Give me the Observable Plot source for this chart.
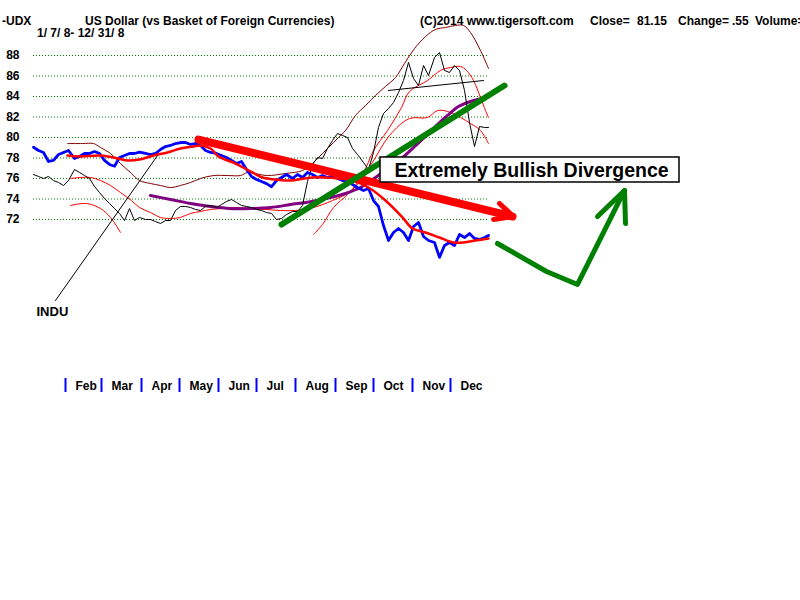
<!DOCTYPE html>
<html>
<head>
<meta charset="utf-8">
<script src="https://cdn.jsdelivr.net/npm/d3@7"></script>
<script src="https://cdn.jsdelivr.net/npm/@observablehq/plot@0.6"></script>
<style>
  html, body { margin: 0; padding: 0; background: #fff; }
  #wrap { position: relative; width: 800px; height: 600px; overflow: hidden; font-family: "Liberation Sans", Arial, sans-serif; font-weight: bold; font-size: 12px; color: #000; }
  #wrap .t { position: absolute; white-space: pre; line-height: 14px; }
  #chart { position: absolute; left: 0; top: 0; }
</style>
</head>
<body>
<div id="wrap">
  <div id="chart"></div>
</div>
<script>
// ---------- header texts ----------
const headerTexts = [
  {text: "-UDX", left: 2, top: 14},
  {text: "US Dollar (vs Basket of Foreign Currencies)", left: 85, top: 14},
  {text: "1/ 7/ 8- 12/ 31/ 8", left: 37, top: 26},
  {text: "(C)2014 www.tigersoft.com", left: 420, top: 14},
  {text: "Close=", left: 590, top: 14},
  {text: "81.15", left: 637, top: 14},
  {text: "Change=", left: 678, top: 14},
  {text: ".55", left: 732, top: 14},
  {text: "Volume=", left: 755, top: 14}
];

// ---------- axis values ----------
const yTicks = [72, 74, 76, 78, 80, 82, 84, 86, 88];
const monthStarts = ["2008-02-01","2008-03-01","2008-04-01","2008-05-01","2008-06-01","2008-07-01","2008-08-01","2008-09-01","2008-10-01","2008-11-01","2008-12-01"];
const monthNames = ["Feb","Mar","Apr","May","Jun","Jul","Aug","Sep","Oct","Nov","Dec"];

// ---------- daily-ish series (every 4 days) ----------
const dates4 = ["2008-01-07","2008-01-11","2008-01-15","2008-01-19","2008-01-23","2008-01-27","2008-01-31","2008-02-04","2008-02-08","2008-02-12","2008-02-16","2008-02-20","2008-02-24","2008-02-28","2008-03-03","2008-03-07","2008-03-11","2008-03-15","2008-03-19","2008-03-23","2008-03-27","2008-03-31","2008-04-04","2008-04-08","2008-04-12","2008-04-16","2008-04-20","2008-04-24","2008-04-28","2008-05-02","2008-05-06","2008-05-10","2008-05-14","2008-05-18","2008-05-22","2008-05-26","2008-05-30","2008-06-03","2008-06-07","2008-06-11","2008-06-15","2008-06-19","2008-06-23","2008-06-27","2008-07-01","2008-07-05","2008-07-09","2008-07-13","2008-07-17","2008-07-21","2008-07-25","2008-07-29","2008-08-02","2008-08-06","2008-08-10","2008-08-14","2008-08-18","2008-08-22","2008-08-26","2008-08-30","2008-09-03","2008-09-07","2008-09-11","2008-09-15","2008-09-19","2008-09-23","2008-09-27","2008-10-01","2008-10-05","2008-10-09","2008-10-13","2008-10-17","2008-10-21","2008-10-25","2008-10-29","2008-11-02","2008-11-06","2008-11-10","2008-11-14","2008-11-18","2008-11-22","2008-11-26","2008-11-30","2008-12-04","2008-12-08","2008-12-12","2008-12-16","2008-12-20","2008-12-24","2008-12-28","2008-12-31"];

// UDX (blue)
const udxValues = [
  79.05, 78.73, 78.54, 77.66, 77.76, 78.34, 78.54, 78.73, 77.95, 78.15,
  78.44, 78.44, 78.63, 78.44, 77.76, 77.37, 77.20, 78.05, 78.24, 78.44,
  78.44, 78.57, 78.44, 78.34, 78.44, 78.83, 79.12, 79.22, 79.41, 79.51,
  79.51, 79.32, 79.41, 79.22, 78.73, 78.54, 78.44, 78.24, 78.05, 77.76,
  77.46, 77.66, 76.88, 76.20, 75.90, 75.70, 75.50, 75.20, 75.80, 76.10,
  76.39, 76.00, 76.39, 76.10, 76.59, 76.39, 76.10, 76.29, 76.10, 76.20,
  76.00, 75.80, 75.71, 75.41, 75.12, 74.83, 75.02, 73.85, 73.27, 71.41,
  69.95, 70.73, 71.12, 70.73, 69.95, 71.32, 71.71, 70.34, 69.95, 69.76,
  68.30, 69.46, 69.76, 69.46, 70.54, 70.24, 70.63, 70.15, 70.05, 70.24,
  70.44];

// INDU, rescaled onto the chart (black)
const induValues = [
  76.39, 76.20, 76.00, 76.20, 75.80, 75.61, 75.32, 75.80, 76.88, 76.59,
  76.29, 76.00, 75.22, 74.63, 74.05, 73.56, 73.07, 72.59, 71.90, 73.07,
  71.90, 72.20, 72.00, 72.00, 71.80, 71.61, 71.90, 71.90, 72.88, 73.27,
  73.27, 73.17, 72.98, 72.88, 73.27, 73.37, 73.17, 73.46, 73.76, 73.95,
  73.66, 73.37, 73.27, 73.17, 72.98, 72.88, 72.68, 72.59, 72.00, 72.10,
  72.49, 72.78, 72.78, 73.37, 75.71, 77.37, 78.05, 77.95, 78.93, 79.71,
  80.39, 80.20, 80.00, 78.93, 78.34, 77.56, 76.88, 78.54, 80.98, 82.34,
  82.83, 83.41, 84.39, 85.56, 87.32, 85.76, 85.07, 87.02, 86.05, 87.80,
  88.29, 86.54, 86.34, 87.02, 86.54, 84.59, 81.46, 79.12, 81.07, 80.98,
  80.98];

// ---------- smooth lines ----------
// moving average of UDX (thick red)
const udxMaDates = ["2008-02-03","2008-02-13","2008-02-29","2008-03-10","2008-03-21","2008-03-31","2008-04-11","2008-04-22","2008-05-02","2008-05-12","2008-05-18","2008-05-26","2008-06-01","2008-06-14","2008-06-28","2008-07-06","2008-07-16","2008-07-24","2008-08-03","2008-08-14","2008-08-24","2008-09-04","2008-09-15","2008-09-27","2008-10-11","2008-10-24","2008-11-01","2008-11-11","2008-11-22","2008-12-03","2008-12-11","2008-12-21","2008-12-31"];
const udxMaValues = [78.24,78.15,78.24,78.05,77.76,77.85,78.24,78.54,78.93,79.12,79.22,78.93,78.15,77.46,76.59,76.10,75.90,75.80,75.90,76.10,76.10,76.00,75.80,75.12,73.85,72.20,71.12,70.73,70.24,69.76,69.76,69.95,70.15];

// upper band (dark red)
const upperDates = ["2008-02-03","2008-02-15","2008-02-23","2008-02-29","2008-03-08","2008-03-16","2008-03-24","2008-03-31","2008-04-08","2008-04-16","2008-04-24","2008-05-02","2008-05-10","2008-05-18","2008-05-28","2008-06-08","2008-06-18","2008-06-24","2008-06-29","2008-07-10","2008-07-24","2008-08-06","2008-08-14","2008-08-19","2008-08-27","2008-09-04","2008-09-09","2008-09-17","2008-09-25","2008-10-03","2008-10-11","2008-10-19","2008-10-26","2008-11-03","2008-11-11","2008-11-19","2008-11-27","2008-12-05","2008-12-11","2008-12-17","2008-12-25","2008-12-31"];
const upperValues = [79.41,79.41,79.41,79.02,78.44,77.46,76.49,75.80,75.51,75.32,75.12,75.32,75.61,76.00,76.29,76.29,76.29,76.59,76.49,76.29,76.49,76.78,77.46,78.05,79.02,80.00,80.68,82.15,83.12,84.10,84.98,85.85,87.22,88.68,89.85,90.54,90.73,90.93,90.93,90.24,88.49,86.73];

// middle band (thin red)
const midDates = ["2008-02-05","2008-02-13","2008-02-21","2008-02-29","2008-03-08","2008-03-16","2008-03-24","2008-03-31","2008-04-08","2008-04-16","2008-04-24","2008-05-02","2008-05-10","2008-05-18","2008-05-26","2008-06-03","2008-06-14","2008-06-26","2008-07-08","2008-07-20","2008-08-01","2008-08-15","2008-08-30","2008-09-14","2008-09-29","2008-10-14","2008-10-30","2008-11-13","2008-11-21","2008-11-29","2008-12-09","2008-12-17","2008-12-25","2008-12-31"];
const midValues = [76.00,76.10,76.10,75.80,75.32,74.63,73.85,73.17,72.68,72.20,72.10,72.20,72.59,72.78,72.98,73.07,73.17,73.07,72.98,72.88,72.88,73.17,73.85,74.83,77.27,80.20,81.85,81.95,82.63,82.54,81.95,81.37,80.68,79.41];

// short lower band (thin red)
const lowDates = ["2008-02-05","2008-02-18","2008-02-29","2008-03-08","2008-03-16"];
const lowValues = [73.37,73.56,73.07,72.20,70.73];

// rising band in the autumn (thin red)
const riseDates = ["2008-08-15","2008-08-22","2008-08-31","2008-09-11","2008-09-19","2008-09-26","2008-10-01","2008-10-12","2008-10-23","2008-10-30","2008-11-13","2008-11-23","2008-12-01","2008-12-09","2008-12-14","2008-12-19","2008-12-25","2008-12-29","2008-12-31"];
const riseValues = [70.54,71.51,73.17,74.44,75.61,77.17,78.73,80.68,82.93,84.49,85.56,86.54,86.83,86.93,86.54,85.56,83.90,82.63,81.95];

// moving average of INDU (purple)
const purpleDates = ["2008-04-08","2008-04-24","2008-05-10","2008-05-26","2008-06-10","2008-06-26","2008-07-12","2008-07-28","2008-08-13","2008-08-28","2008-09-09","2008-09-21","2008-10-03","2008-10-15","2008-10-23","2008-11-02","2008-11-11","2008-11-21","2008-11-29","2008-12-07","2008-12-17","2008-12-26"];
const purpleValues = [74.34,73.95,73.56,73.27,73.07,73.07,73.17,73.46,73.76,74.15,74.54,75.12,76.10,77.17,77.95,79.02,80.10,81.27,82.15,83.02,83.51,83.80];

// ---------- hand-drawn annotations ----------
const necklineDates = ["2008-10-13","2008-12-27"];
const necklineValues = [84.59, 85.56];
const induPointerDates = ["2008-01-24","2008-04-14"];
const induPointerValues = [64.10, 78.24];
const induLabel = {date: "2008-01-09", value: 62.55, text: "INDU"};

const redArrowDates = ["2008-05-16","2009-01-19"];
const redArrowValues = [79.80, 72.29];
const redHeadDates = ["2009-01-09","2009-01-20","2009-01-04"];
const redHeadValues = [73.56, 72.29, 72.00];

const greenLineDates = ["2008-07-21","2009-01-13"];
const greenLineValues = [71.51, 85.07];
const greenArrowDates = ["2009-01-07","2009-02-15","2009-03-11","2009-04-17"];
const greenArrowValues = [69.66, 66.93, 65.66, 74.83];
const greenHeadDates = ["2009-03-27","2009-04-17","2009-04-18"];
const greenHeadValues = [72.29, 74.83, 71.61];

const noteBox = {x1: "2008-10-07", x2: "2009-05-31", y1: 78.05, y2: 75.61};
const noteText = {date: "2008-10-18", value: 76.10, text: "Extremely Bullish Divergence"};

// ---------- build ----------
const parse = d3.utcParse("%Y-%m-%d");
const pair = (ds, vs) => ds.map((d, i) => ({date: parse(d), value: vs[i]}));
const xs = d => d.date, ys = d => d.value;

const wrap = document.getElementById("wrap");
for (const h of headerTexts) {
  const el = document.createElement("div");
  el.className = "t";
  el.style.left = h.left + "px";
  el.style.top = h.top + "px";
  el.textContent = h.text;
  wrap.appendChild(el);
}

const line = (ds, vs, opts) => Plot.line(pair(ds, vs), {x: xs, y: ys, ...opts});
const monthDates = monthStarts.map(parse);
const monthLabel = new Map(monthDates.map((d, i) => [+d, monthNames[i]]));

const chart = Plot.plot({
  width: 800,
  height: 600,
  marginLeft: 33,
  marginRight: 312,
  marginTop: 0,
  marginBottom: 222,
  style: {fontFamily: "'Liberation Sans', Arial, sans-serif", fontSize: "12px", fontWeight: "bold", background: "transparent", color: "black"},
  x: {type: "utc", domain: [parse("2008-01-07"), parse("2008-12-31")], range: [33, 488], round: true, label: null},
  y: {domain: [72, 88], range: [219, 55], label: null},
  marks: [
    Plot.ruleY(yTicks, {x1: parse("2008-01-07"), x2: parse("2008-12-31"), stroke: "#008000", strokeDasharray: "1,2", strokeWidth: 1}),
    Plot.axisY(yTicks, {anchor: "left", tickSize: 0, tickPadding: 14, fontSize: 12, fontWeight: "bold", label: null}),
    // blue month separators with the month name just to their right
    Plot.axisX(monthDates, {anchor: "bottom", tickSize: 14, tickPadding: -11, stroke: "blue", strokeWidth: 2, fill: "black", textAnchor: "start", fontSize: 12, fontWeight: "bold", tickFormat: d => "\u00a0\u00a0\u00a0" + monthLabel.get(+d), label: null}),

    line(upperDates, upperValues, {stroke: "#800000", strokeWidth: 1, curve: "catmull-rom"}),
    line(midDates, midValues, {stroke: "red", strokeWidth: 1, curve: "catmull-rom"}),
    line(lowDates, lowValues, {stroke: "red", strokeWidth: 1, curve: "catmull-rom"}),
    line(riseDates, riseValues, {stroke: "red", strokeWidth: 1, curve: "catmull-rom"}),
    line(purpleDates, purpleValues, {stroke: "#800080", strokeWidth: 3, curve: "catmull-rom"}),
    line(dates4, induValues, {stroke: "black", strokeWidth: 1}),
    line(dates4, udxValues, {stroke: "blue", strokeWidth: 2.8}),
    line(udxMaDates, udxMaValues, {stroke: "red", strokeWidth: 2.5, curve: "catmull-rom"}),

    line(necklineDates, necklineValues, {stroke: "black", strokeWidth: 1}),
    line(induPointerDates, induPointerValues, {stroke: "black", strokeWidth: 1}),
    Plot.text([induLabel], {x: d => parse(d.date), y: d => d.value, text: d => d.text, textAnchor: "start", lineAnchor: "bottom", fontSize: 13, fontWeight: "bold", fill: "black"}),

    line(redArrowDates, redArrowValues, {stroke: "red", strokeWidth: 8}),
    line(redHeadDates, redHeadValues, {stroke: "red", strokeWidth: 5, strokeLinecap: "round", strokeLinejoin: "round"}),
    line(greenLineDates, greenLineValues, {stroke: "#008000", strokeWidth: 6, strokeLinecap: "round"}),
    line(greenArrowDates, greenArrowValues, {stroke: "#008000", strokeWidth: 5, strokeLinecap: "round", strokeLinejoin: "round"}),
    line(greenHeadDates, greenHeadValues, {stroke: "#008000", strokeWidth: 5, strokeLinecap: "round", strokeLinejoin: "round"}),

    Plot.rect([noteBox], {x1: d => parse(d.x1), x2: d => parse(d.x2), y1: d => d.y1, y2: d => d.y2, fill: "white", stroke: "black", strokeWidth: 1.5}),
    Plot.text([noteText], {x: d => parse(d.date), y: d => d.value, text: d => d.text, textAnchor: "start", lineAnchor: "bottom", fontSize: 19.5, fontWeight: "bold", fill: "black"})
  ]
});
document.getElementById("chart").appendChild(chart);
</script>
</body>
</html>
